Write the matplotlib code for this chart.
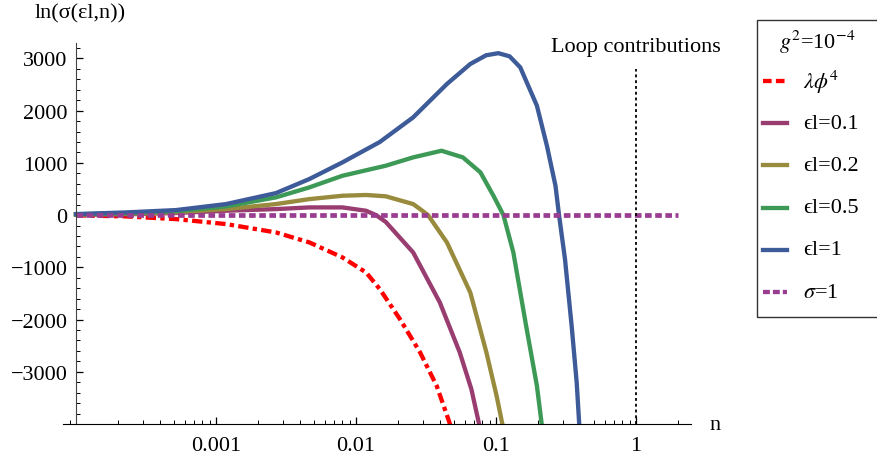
import matplotlib
matplotlib.use("Agg")
import matplotlib.pyplot as plt
from matplotlib.lines import Line2D
from matplotlib.patches import Rectangle
from matplotlib.ticker import FixedLocator, LogLocator, MultipleLocator, NullFormatter

# values
n_lam = [1e-4, 2.28e-4, 5.18e-4, 1.18e-3, 2.68e-3, 4.64e-3, 8.0e-3, 0.0118, 0.0148, 0.0206,
         0.0287, 0.0377, 0.0469, 0.049]
y_lam = [-5, -25, -77, -172, -332, -523, -810, -1098, -1418, -1992,
         -2630, -3270, -4000, -4300]

n_01 = [1e-4, 2.28e-4, 5.18e-4, 1.18e-3, 2.68e-3, 4.64e-3, 8.0e-3, 0.0118, 0.0139, 0.0163,
        0.0256, 0.0397, 0.0551, 0.0667, 0.0757, 0.078]
y_01 = [5, 15, 40, 83, 115, 147, 147, 83, 0, -130,
        -715, -1673, -2630, -3333, -4000, -4500]

n_02 = [1e-4, 2.28e-4, 5.18e-4, 1.18e-3, 2.68e-3, 4.64e-3, 8.0e-3, 0.0118, 0.0163, 0.0256,
        0.0287, 0.0327, 0.0446, 0.0655, 0.0854, 0.101, 0.111, 0.114]
y_02 = [10, 25, 55, 115, 211, 306, 370, 385, 360, 211,
        115, 0, -523, -1481, -2630, -3462, -4000, -4500]

n_05 = [1e-4, 2.28e-4, 5.18e-4, 1.18e-3, 2.68e-3, 4.64e-3, 8.0e-3, 0.0163, 0.0256, 0.0408,
        0.058, 0.0774, 0.0959, 0.113, 0.133, 0.164, 0.196, 0.212, 0.218]
y_05 = [15, 35, 75, 166, 339, 530, 753, 945, 1105, 1232,
        1105, 818, 370, 0, -715, -2115, -3270, -4000, -4500]

n_1 = [1e-4, 2.28e-4, 5.18e-4, 1.18e-3, 2.68e-3, 4.64e-3, 8.0e-3, 0.0148, 0.0256, 0.0446,
       0.0655, 0.085, 0.104, 0.125, 0.149, 0.196, 0.231, 0.266, 0.282, 0.311,
       0.347, 0.377, 0.393, 0.40]
y_1 = [20, 51, 96, 211, 421, 690, 1009, 1400, 1871, 2510,
       2893, 3060, 3100, 3040, 2829, 2094, 1328, 561, 0, -843,
       -2121, -3205, -4000, -4500]

n_sigma = [1e-4, 2.0]
y_sigma = [0, 0]

loop_n = 1
loop_top = 2800

xticks = [1e-3, 1e-2, 1e-1, 1]
xticklabels = ["0.001", "0.01", "0.1", "1"]
yticks = [-3000, -2000, -1000, 0, 1000, 2000, 3000]

legend_title = "$g^2$=10$^{-4}$"
labels = [r"$\lambda\phi^4$", "\u03f5l=0.1", "\u03f5l=0.2", "\u03f5l=0.5", "\u03f5l=1", r"$\sigma$=1"]
colors = ["#ff0000", "#993d71", "#998b3d", "#3d9956", "#3d5a99", "#993d90"]

plt.rcParams["font.family"] = ["Liberation Serif", "DejaVu Serif"]
plt.rcParams["mathtext.fontset"] = "stix"

fig = plt.figure(figsize=(8.78, 4.64), dpi=100)
W, H = 878.0, 464.0
ax = fig.add_axes([63 / W, 1 - 425 / H, (691 - 63) / W, (425 - 44) / H])
ax.set_xscale("log")
ax.set_xlim(10 ** ((63 - 76) / 140 - 4), 10 ** ((691 - 76) / 140 - 4))
ax.set_ylim(-4000, 3295)

lw = 3.1
red_ls = (0, (2.4, 1.0, 1.0, 1.0))
sigma_ls = (0, (1.4, 0.75))
ax.plot(n_lam, y_lam, color=colors[0], lw=lw, ls=red_ls)
for n, y, c in [(n_01, y_01, colors[1]), (n_02, y_02, colors[2]),
                (n_05, y_05, colors[3]), (n_1, y_1, colors[4])]:
    ax.plot(n, y, color=c, lw=lw, solid_joinstyle="round")
ax.plot(n_sigma, y_sigma, color=colors[5], lw=3.4, ls=sigma_ls)

ax.vlines(loop_n, -4000, loop_top, color="black", lw=1.3, linestyles=[(0, (1.6, 1.6))])
ax.text(loop_n, 3220, "Loop contributions", ha="center", va="center", fontsize=16)

for s in ["top", "right"]:
    ax.spines[s].set_visible(False)
ax.spines["left"].set_position(("data", 1e-4))
ax.spines["left"].set_color("#444444")

ax.xaxis.set_major_locator(FixedLocator(xticks))
ax.set_xticklabels(xticklabels)
ax.xaxis.set_minor_locator(LogLocator(base=10, subs=range(2, 10), numticks=20))
ax.xaxis.set_minor_formatter(NullFormatter())
ax.yaxis.set_major_locator(FixedLocator(yticks))
ax.yaxis.set_minor_locator(MultipleLocator(200))
ax.tick_params(which="both", direction="in", labelsize=16)
ax.tick_params(which="major", length=5, width=0.9)
ax.tick_params(which="minor", length=2.8, width=0.7)
ax.tick_params(axis="x", pad=9)
ax.tick_params(axis="y", pad=6)

fig.text(35 / W, 1 - 14 / H, "ln(\u03c3(\u03b5l,n))", fontsize=16, va="center", ha="left")
fig.text(709 / W, 1 - 426 / H, "n", fontsize=16, va="center", ha="left")

# legend box, laid out by hand to match the row pitch of the original
fig.add_artist(Rectangle((757 / W, 1 - 318 / H), 200 / W, (318 - 21) / H,
                         transform=fig.transFigure, fill=False, edgecolor="#333333", lw=1.0))
fig.text(817 / W, 1 - 42 / H, legend_title, fontsize=16, ha="center", va="center")
handle_ls = [(0, (2.0, 1.0)), "-", "-", "-", "-", (0, (1.6, 0.7))]
for i, (lab, c, ls) in enumerate(zip(labels, colors, handle_ls)):
    yy = 1 - (82 + 42.2 * i) / H
    fig.add_artist(Line2D([763 / W, 787 / W], [yy, yy], transform=fig.transFigure,
                          color=c, lw=lw, ls=ls))
    fig.text(803 / W, yy, lab, fontsize=16, ha="left", va="center")

fig.savefig("out.png", dpi=100)
